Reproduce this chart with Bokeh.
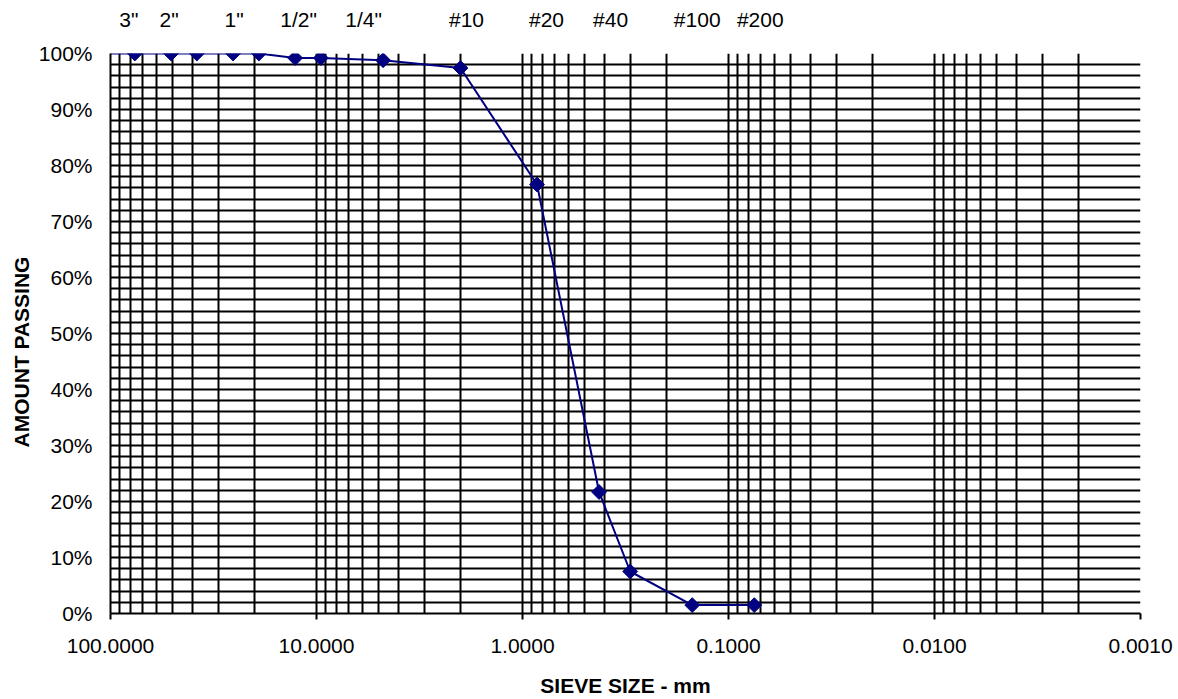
import math
from bokeh.plotting import figure
from bokeh.models import (Range1d, LogAxis, FixedTicker, PrintfTickFormatter,
                          CustomJSTickFormatter, Title, ColumnDataSource)
from bokeh.embed import file_html
from bokeh.resources import INLINE

# ---------------- data ----------------
# sieve opening (mm) and percent passing; first entry only carries the line
line_sieve_mm = [101.6, 76.2, 50.8, 38.1, 25.4, 19.05, 12.7, 9.525, 4.75, 2.0,
                 0.85, 0.425, 0.3, 0.15, 0.075]
line_passing = [100, 100, 100, 100, 100, 100, 99.2, 99.2, 98.8, 97.4,
                76.6, 21.7, 7.5, 1.5, 1.5]
marker_sieve_mm = line_sieve_mm[1:]
marker_passing = line_passing[1:]

top_sieve_labels = ['3"', '2"', '1"', '1/2"', '1/4"', '#10', '#20', '#40', '#100', '#200']
top_sieve_mm = [76.2, 50.8, 25.4, 12.7, 6.35, 2.0, 0.85, 0.425, 0.15, 0.075]

x_tick_mm = [100, 10, 1, 0.1, 0.01, 0.001]
y_tick_pct = [0, 10, 20, 30, 40, 50, 60, 70, 80, 90, 100]

# ---------------- style / layout ----------------
FONT = "Liberation Sans"
NAVY = "#000080"
FS = "21px"
FRAME_W, FRAME_H = 1030, 560
DECADE_PX = FRAME_W / 5.0
top_label_dx = [-6, -2, 1, 3.5, 6.5, 6, 9.5, 11.5, 5, 6]   # hand placement of captions (px)

p = figure(x_axis_type="log", x_range=Range1d(100, 0.001), y_range=Range1d(0, 100),
           frame_width=FRAME_W, frame_height=FRAME_H,
           min_border_left=110, min_border_right=38, min_border_top=53, min_border_bottom=86,
           output_backend="svg", toolbar_location=None,
           background_fill_color="white", border_fill_color="white")
p.outline_line_color = None

# grids
grid_x = [m * 10.0 ** e for e in range(-3, 2) for m in range(1, 10)] + [100.0]
p.xgrid[0].ticker = FixedTicker(ticks=grid_x)
p.ygrid[0].ticker = FixedTicker(ticks=list(range(0, 101, 2)))
for g in (p.xgrid[0], p.ygrid[0]):
    g.grid_line_color = "black"
    g.grid_line_width = 2
    g.grid_line_alpha = 1.0

# x axis (bottom)
xa = p.xaxis[0]
xa.ticker = FixedTicker(ticks=x_tick_mm, minor_ticks=[])
xa.formatter = PrintfTickFormatter(format="%.4f")
xa.major_tick_out = 6
xa.major_tick_in = 0
xa.major_tick_line_width = 2
xa.major_tick_line_color = "black"
xa.minor_tick_line_color = None
xa.axis_line_color = "black"
xa.axis_line_width = 2
xa.major_label_text_font = FONT
xa.major_label_text_font_size = FS
xa.major_label_text_color = "black"
xa.major_label_standoff = 19
xa.axis_label = "SIEVE SIZE - mm"
xa.axis_label_text_font = FONT
xa.axis_label_text_font_size = FS
xa.axis_label_text_font_style = "bold"
xa.axis_label_text_color = "black"
xa.axis_label_standoff = 18

# y axis (left)
ya = p.yaxis[0]
ya.ticker = FixedTicker(ticks=y_tick_pct, minor_ticks=[])
ya.formatter = PrintfTickFormatter(format="%d%%")
ya.major_tick_out = 0
ya.major_tick_in = 0
ya.minor_tick_line_color = None
ya.axis_line_color = "black"
ya.axis_line_width = 2
ya.major_label_text_font = FONT
ya.major_label_text_font_size = FS
ya.major_label_text_color = "black"
ya.major_label_standoff = 18

# y axis title, placed along the left side
p.add_layout(Title(text="AMOUNT PASSING", align="left", offset=166,
                   text_font=FONT, text_font_size=FS, text_font_style="bold",
                   text_color="black", standoff=6), "left")

# sieve designations above the frame
top_tick_pos = [mm * 10 ** (-dx / DECADE_PX) for mm, dx in zip(top_sieve_mm, top_label_dx)]
top_axis = LogAxis(
    ticker=FixedTicker(ticks=top_tick_pos, minor_ticks=[]),
    formatter=CustomJSTickFormatter(
        args=dict(v=top_tick_pos, t=top_sieve_labels),
        code="for (let i = 0; i < v.length; i++) { if (Math.abs(v[i] - tick) < 1e-9 * v[i]) return t[i]; } return '';"),
    axis_line_color=None, major_tick_line_color=None, minor_tick_line_color=None,
    major_tick_out=0, major_tick_in=0,
    major_label_text_font=FONT, major_label_text_font_size=FS,
    major_label_text_color="black", major_label_standoff=23)
p.add_layout(top_axis, "above")

# data
src_line = ColumnDataSource(dict(x=line_sieve_mm, y=line_passing))
src_pts = ColumnDataSource(dict(x=marker_sieve_mm, y=marker_passing))
p.line("x", "y", source=src_line, line_color=NAVY, line_width=2)
p.scatter("x", "y", source=src_pts, marker="square", size=10.5, angle=math.pi / 4,
          fill_color=NAVY, line_color=NAVY)

open("out.html", "w").write(file_html(p, INLINE))
